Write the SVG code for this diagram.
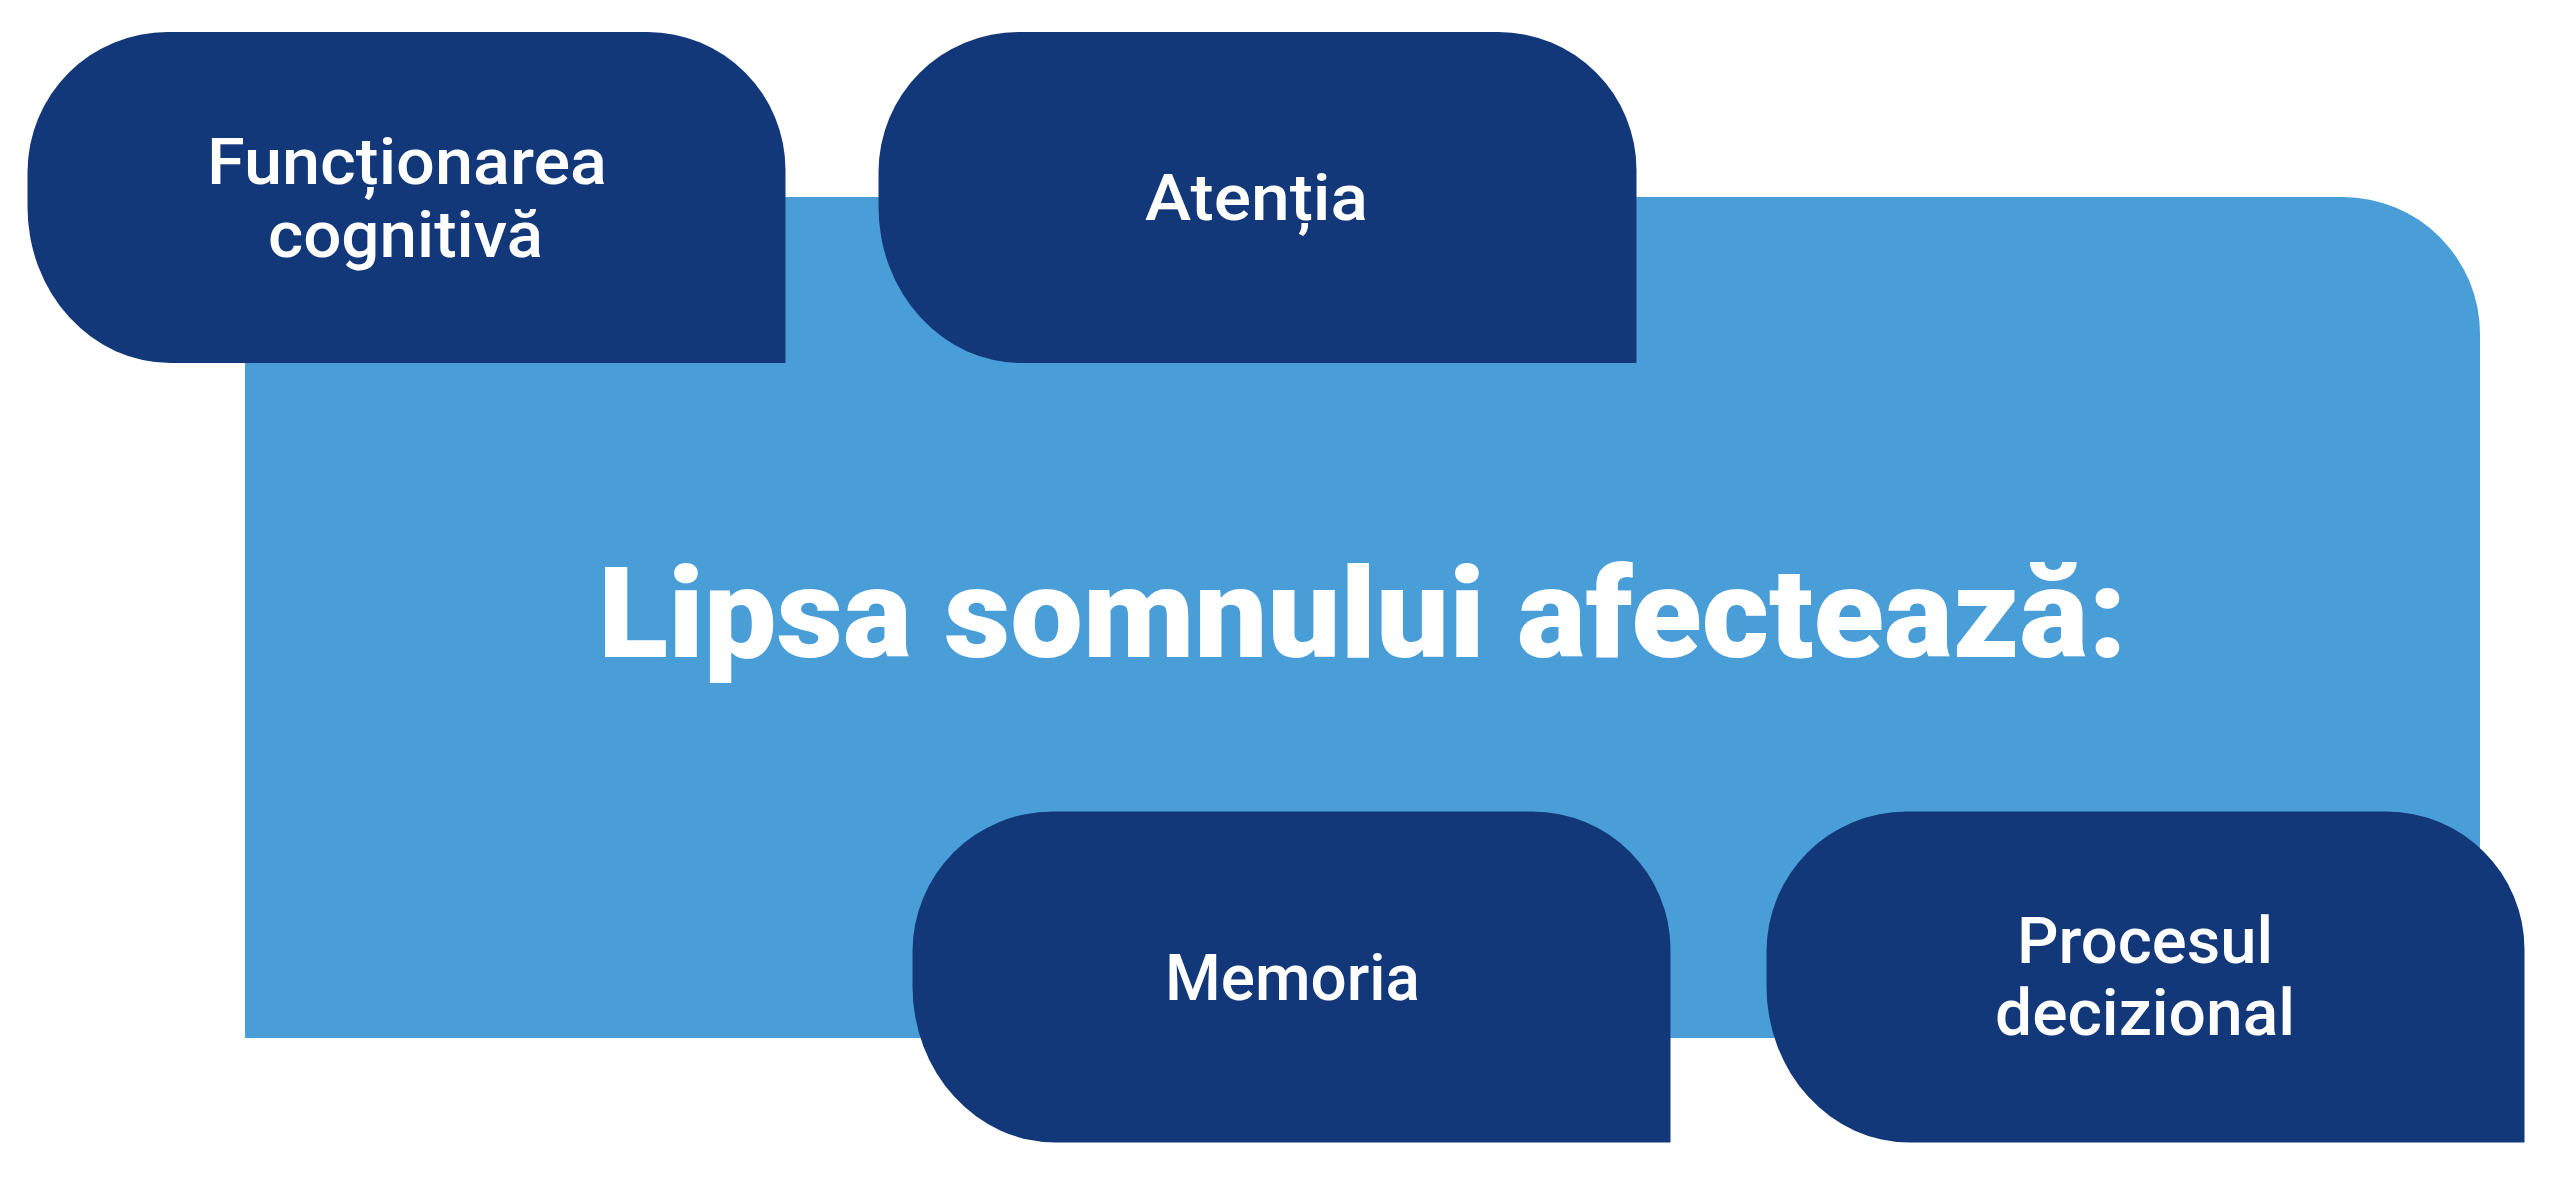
<svg xmlns="http://www.w3.org/2000/svg" width="2560" height="1184" viewBox="0 0 2560 1184">
  <style>
    .node { fill: #13387A; }
    .label { fill: #FFFFFF; font-family: Roboto, "Noto Sans", "Liberation Sans", sans-serif; font-size: 64px; font-weight: 500; text-anchor: middle; }
    .title { fill: #FFFFFF; font-family: Roboto, "Noto Sans", "Liberation Sans", sans-serif; font-size: 127px; font-weight: 900; text-anchor: middle; }
  </style>
  <defs>
    <path id="nodeShape" d="M140,0 H620 A138,138 0 0 1 758,138 V331 H143 A143,156 0 0 1 0,175 V140 A140,140 0 0 1 140,0 Z"/>
  </defs>
  <rect width="2560" height="1184" fill="#FFFFFF"/>
  <g id="main">
    <path d="M245,197 H2343 A137,137 0 0 1 2480,334 V1038 H245 Z" fill="#4A9ED7"/>
    <text class="title" x="1362.5" y="657" textLength="1529" lengthAdjust="spacingAndGlyphs">Lipsa somnului afectează:</text>
  </g>
  <g id="connectors"/>
  <g id="node-functionarea">
    <use href="#nodeShape" class="node" transform="translate(27.5,32)"/>
    <text class="label" x="407" y="184" textLength="400" lengthAdjust="spacingAndGlyphs">Funcționarea</text>
    <text class="label" x="405.5" y="256.5" textLength="275" lengthAdjust="spacingAndGlyphs">cognitivă</text>
  </g>
  <g id="node-atentia">
    <use href="#nodeShape" class="node" transform="translate(878.5,32)"/>
    <text class="label" x="1256.5" y="220" textLength="223" lengthAdjust="spacingAndGlyphs">Atenția</text>
  </g>
  <g id="node-memoria">
    <use href="#nodeShape" class="node" transform="translate(912.5,811.5)"/>
    <text class="label" x="1292.5" y="1000" textLength="255" lengthAdjust="spacingAndGlyphs">Memoria</text>
  </g>
  <g id="node-procesul">
    <use href="#nodeShape" class="node" transform="translate(1766.5,811.5)"/>
    <text class="label" x="2145" y="963" textLength="256" lengthAdjust="spacingAndGlyphs">Procesul</text>
    <text class="label" x="2145" y="1035" textLength="300" lengthAdjust="spacingAndGlyphs">decizional</text>
  </g>
</svg>
